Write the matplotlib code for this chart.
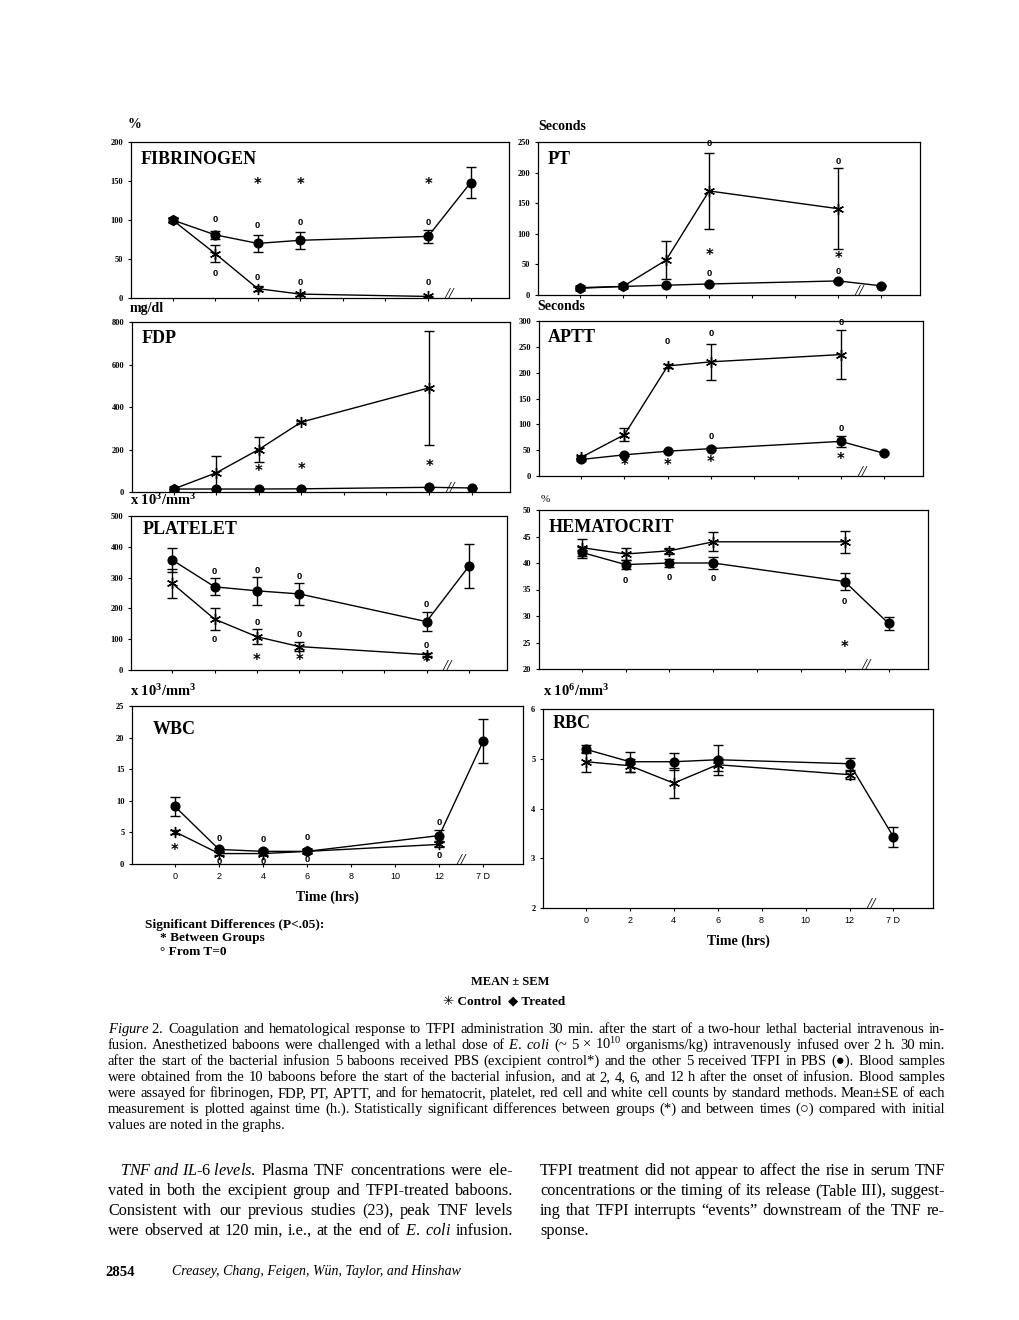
import numpy as np
import matplotlib.pyplot as plt

plt.rcParams['font.family'] = ['Liberation Serif', 'DejaVu Sans']
plt.rcParams['mathtext.fontset'] = 'custom'
plt.rcParams['mathtext.rm'] = 'Liberation Serif'
plt.rcParams['mathtext.it'] = 'Liberation Serif:italic'
plt.rcParams['mathtext.bf'] = 'Liberation Serif:bold'

W, H = 1020, 1320

# time axis: 7 days is drawn at position 14 after the axis break
times = [0, 2, 4, 6, 12, 14]
time_ticks = [0, 2, 4, 6, 8, 10, 12, 14]
time_labels = ['0', '2', '4', '6', '8', '10', '12', '7 D']
break_at = 13

# fibrinogen (%)
fib_trt = [100, 81, 70, 74, 79, 148]
fib_trt_err = [2, 5.5, 11, 11, 8, 20]
fib_ctl = [100, 57, 12, 5, 2]
fib_ctl_err = [2, 11, 3, 2, 1]
fib_marks = [(4, 145, '*'), (6, 145, '*'), (12, 145, '*'),
             (2, 101, '0'), (4, 93, '0'), (6, 97, '0'), (12, 97, '0'),
             (2, 31, '0'), (4, 26, '0'), (6, 20, '0'), (12, 20, '0')]

# PT (seconds)
pt_trt = [11, 14, 16, 18, 23, 15]
pt_trt_err = [1, 1, 1, 1, 2, 1]
pt_ctl = [12, 14, 57, 170, 141]
pt_ctl_err = [1, 1, 31, 62, 66]
pt_marks = [(6, 248, '0'), (12, 218, '0'), (6, 64, '*'), (12, 60, '*'),
            (6, 35, '0'), (12, 38, '0')]

# FDP (mg/dl)
fdp_trt = [14, 14, 14, 15, 22, 19]
fdp_trt_err = [2, 2, 2, 2, 3, 2]
fdp_ctl = [14, 90, 200, 329, 490]
fdp_ctl_err = [2, 78, 57, 4, 270]
fdp_marks = [(4, 97, '*'), (6, 105, '*'), (12, 121, '*')]

# APTT (seconds)
aptt_trt = [32, 41, 48, 53, 67, 44]
aptt_trt_err = [2, 2, 2, 3, 10, 2]
aptt_ctl = [36, 80, 213, 221, 235]
aptt_ctl_err = [2, 12, 3, 35, 48]
aptt_marks = [(4, 261, '0'), (6, 276, '0'), (12, 298, '0'), (6, 77, '0'), (12, 91, '0'),
              (2, 21, '*'), (4, 21, '*'), (6, 26, '*'), (12, 31, '*')]

# platelets (x 10^3/mm^3)
plt_trt = [357, 270, 257, 247, 157, 337]
plt_trt_err = [40, 28, 45, 35, 30, 72]
plt_ctl = [281, 165, 108, 76, 50]
plt_ctl_err = [47, 35, 25, 15, 5]
plt_marks = [(2, 319, '0'), (4, 322, '0'), (6, 305, '0'), (12, 214, '0'),
             (2, 100, '0'), (4, 154, '0'), (6, 116, '0'), (12, 78, '0'),
             (4, 32, '*'), (6, 32, '*'), (12, 25, '*')]

# hematocrit (%)
hct_trt = [42.0, 39.7, 40.0, 40.0, 36.5, 28.6]
hct_trt_err = [1.0, 0.8, 0.7, 1.2, 1.6, 1.2]
hct_ctl = [42.9, 41.7, 42.3, 44.0, 44.0]
hct_ctl_err = [1.6, 1.2, 0.6, 1.8, 2.1]
hct_marks = [(2, 36.7, '0'), (4, 37.3, '0'), (6, 37.1, '0'), (12, 32.8, '0'), (12, 24, '*')]

# WBC (x 10^3/mm^3)
wbc_trt = [9.1, 2.3, 2.0, 2.0, 4.5, 19.5]
wbc_trt_err = [1.5, 0.3, 0.3, 0.3, 0.9, 3.5]
wbc_ctl = [5.1, 1.65, 1.65, 2.0, 3.1]
wbc_ctl_err = [0.3, 0.2, 0.2, 0.2, 0.4]
wbc_marks = [(0, 2.2, '*'), (2, 4.0, '0'), (4, 3.9, '0'), (6, 4.2, '0'), (12, 6.6, '0'),
             (2, 0.4, '0'), (4, 0.4, '0'), (6, 0.7, '0'), (12, 1.3, '0')]

# RBC (x 10^6/mm^3)
rbc_trt = [5.19, 4.94, 4.94, 4.98, 4.90, 3.43]
rbc_trt_err = [0.08, 0.2, 0.17, 0.3, 0.12, 0.2]
rbc_ctl = [4.94, 4.86, 4.51, 4.88, 4.68]
rbc_ctl_err = [0.2, 0.13, 0.3, 0.13, 0.08]
rbc_marks = []

fig = plt.figure(figsize=(W / 100, H / 100), dpi=100)
renderer = fig.canvas.get_renderer()


def ptext(x, y, s, **kw):
    return fig.text(x / W, 1 - y / H, s, **kw)


def split_words(line):
    # split on spaces that are not inside $...$
    words, cur, in_math = [], '', False
    for ch in line:
        if ch == '$':
            in_math = not in_math
        if ch == ' ' and not in_math:
            if cur:
                words.append(cur)
            cur = ''
        else:
            cur += ch
    if cur:
        words.append(cur)
    return words


def justified(x0, x1, y, line, size, full=True, **kw):
    # y is the baseline in pixels
    if not full:
        ptext(x0, y, line, fontsize=size, va='baseline', **kw)
        return
    words = split_words(line)
    texts = [ptext(0, y, w, fontsize=size, va='baseline', **kw) for w in words]
    widths = [t.get_window_extent(renderer).width for t in texts]
    gap = (x1 - x0 - sum(widths)) / (len(words) - 1)
    x = x0
    for t, w in zip(texts, widths):
        t.set_x(x / W)
        x += w + gap


def panel(box, ylim, ystep, title, trt, trt_err, ctl, ctl_err, marks,
          bottom=False, title_off=(10, 17)):
    l, t, r, b = box
    ax = fig.add_axes([l / W, 1 - b / H, (r - l) / W, (b - t) / H])
    ax.errorbar(times[:len(trt)], trt, yerr=trt_err, color='k', lw=1, marker='o', ms=6.3,
                capsize=3.5, elinewidth=1, capthick=1, zorder=3)
    ax.errorbar(times[:len(ctl)], ctl, yerr=ctl_err, color='k', lw=1, marker=(6, 2, 0),
                ms=8, mew=1, capsize=3.5, elinewidth=1, capthick=1, zorder=4)
    for tx, ty, s in marks:
        if s == '*':
            ax.text(tx, ty, s, ha='center', va='center', fontsize=10.5, fontweight='bold',
                    family='DejaVu Sans')
        else:
            ax.text(tx, ty, s, ha='center', va='center', fontsize=6.8, fontweight='bold',
                    family='Liberation Sans')
    ax.set_xlim(-1.95, 15.8)
    ax.set_ylim(*ylim)
    ax.set_yticks(np.arange(ylim[0], ylim[1] + ystep / 2, ystep))
    ax.set_xticks(time_ticks)
    if bottom:
        ax.set_xticklabels(time_labels, family='Liberation Sans', fontsize=6.5)
        ax.set_xlabel('Time (hrs)', fontsize=10, fontweight='bold', labelpad=7)
    else:
        ax.set_xticklabels([])
    for lab in ax.get_yticklabels():
        lab.set_fontsize(6)
        lab.set_fontweight('bold')
    ax.tick_params(direction='out', length=2.5, width=0.8, pad=3)
    for sp in ax.spines.values():
        sp.set_linewidth(0.9)
    ax.annotate('//', xy=(break_at, ylim[0]), xytext=(0, 2), textcoords='offset points',
                ha='center', va='center', fontsize=12, style='italic', annotation_clip=False)
    ax.annotate(title, xy=(0, 1), xycoords='axes fraction',
                xytext=(title_off[0] * 0.72, -title_off[1] * 0.72), textcoords='offset points',
                ha='left', va='center', fontsize=13, fontweight='bold')
    return ax


panel((131, 142, 509, 298), (0, 200), 50, 'FIBRINOGEN', fib_trt, fib_trt_err, fib_ctl, fib_ctl_err, fib_marks)
panel((538, 142, 920, 295), (0, 250), 50, 'PT', pt_trt, pt_trt_err, pt_ctl, pt_ctl_err, pt_marks)
panel((132, 322, 510, 492), (0, 800), 200, 'FDP', fdp_trt, fdp_trt_err, fdp_ctl, fdp_ctl_err, fdp_marks,
      title_off=(10, 16))
panel((539, 321, 923, 476), (0, 300), 50, 'APTT', aptt_trt, aptt_trt_err, aptt_ctl, aptt_ctl_err, aptt_marks,
      title_off=(9, 16))
panel((131, 516, 507, 670), (0, 500), 100, 'PLATELET', plt_trt, plt_trt_err, plt_ctl, plt_ctl_err, plt_marks,
      title_off=(12, 14))
panel((539, 510, 928, 669), (20, 50), 5, 'HEMATOCRIT', hct_trt, hct_trt_err, hct_ctl, hct_ctl_err, hct_marks,
      title_off=(10, 18))
panel((132, 706, 523, 864), (0, 25), 5, 'WBC', wbc_trt, wbc_trt_err, wbc_ctl, wbc_ctl_err, wbc_marks,
      bottom=True, title_off=(21, 24))
panel((543, 709, 933, 908), (2, 6), 1, 'RBC', rbc_trt, rbc_trt_err, rbc_ctl, rbc_ctl_err, rbc_marks,
      bottom=True, title_off=(10, 14))

# unit labels
ptext(128, 125, '%', fontsize=10, fontweight='bold', va='center')
ptext(538, 127, 'Seconds', fontsize=10, fontweight='bold', va='center')
ptext(130, 308, 'mg/dl', fontsize=10, fontweight='bold', va='center')
ptext(537, 307, 'Seconds', fontsize=10, fontweight='bold', va='center')
ptext(130, 500, r'x 10$^{\mathbf{3}}$/mm$^{\mathbf{3}}$', fontsize=10.5, fontweight='bold', va='center')
ptext(541, 500, '%', fontsize=8, va='center')
ptext(130, 691, r'x 10$^{\mathbf{3}}$/mm$^{\mathbf{3}}$', fontsize=10.5, fontweight='bold', va='center')
ptext(543, 691, r'x 10$^{\mathbf{6}}$/mm$^{\mathbf{3}}$', fontsize=10.5, fontweight='bold', va='center')

# significance key
ptext(145, 925, 'Significant Differences (P<.05):', fontsize=9.6, fontweight='bold', va='center')
ptext(160, 938, '* Between Groups', fontsize=9.6, fontweight='bold', va='center')
ptext(160, 952, '° From T=0', fontsize=9.6, fontweight='bold', va='center')

ptext(510, 982, 'MEAN ± SEM', fontsize=9, fontweight='bold', ha='center', va='center')
ptext(504, 1002, '✳ Control  ◆ Treated', fontsize=9.5, fontweight='bold', ha='center', va='center')

caption = [
    r'$\mathit{Figure\ 2.}$ Coagulation and hematological response to TFPI administration 30 min. after the start of a two-hour lethal bacterial intravenous in-',
    r'fusion. Anesthetized baboons were challenged with a lethal dose of $\mathit{E.\ coli}$ (~ 5 × 10$^{10}$ organisms/kg) intravenously infused over 2 h. 30 min.',
    'after the start of the bacterial infusion 5 baboons received PBS (excipient control*) and the other 5 received TFPI in PBS (●). Blood samples',
    'were obtained from the 10 baboons before the start of the bacterial infusion, and at 2, 4, 6, and 12 h after the onset of infusion. Blood samples',
    'were assayed for fibrinogen, FDP, PT, APTT, and for hematocrit, platelet, red cell and white cell counts by standard methods. Mean±SE of each',
    'measurement is plotted against time (h.). Statistically significant differences between groups (*) and between times (○) compared with initial',
    'values are noted in the graphs.',
]
for i, line in enumerate(caption):
    justified(108, 945, 1033 + i * 16, line, 10.5, full=i < len(caption) - 1)

left_col = [
    r'$\mathit{TNF\ and\ IL}$-$\mathit{6\ levels.}$ Plasma TNF concentrations were ele-',
    'vated in both the excipient group and TFPI-treated baboons.',
    'Consistent with our previous studies (23), peak TNF levels',
    r'were observed at 120 min, i.e., at the end of $\mathit{E.\ coli}$ infusion.',
]
right_col = [
    'TFPI treatment did not appear to affect the rise in serum TNF',
    'concentrations or the timing of its release (Table III), suggest-',
    'ing that TFPI interrupts “events” downstream of the TNF re-',
    'sponse.',
]
for i, line in enumerate(left_col):
    justified(120 if i == 0 else 108, 513, 1175 + i * 20, line, 11.7)
for i, line in enumerate(right_col):
    justified(540, 945, 1175 + i * 20, line, 11.7, full=i < 3)

ptext(105, 1272, '2854', fontsize=10.5, fontweight='bold', va='center')
ptext(172, 1272, 'Creasey, Chang, Feigen, Wün, Taylor, and Hinshaw', fontsize=10, style='italic', va='center')

fig.savefig('out.png', dpi=100)
